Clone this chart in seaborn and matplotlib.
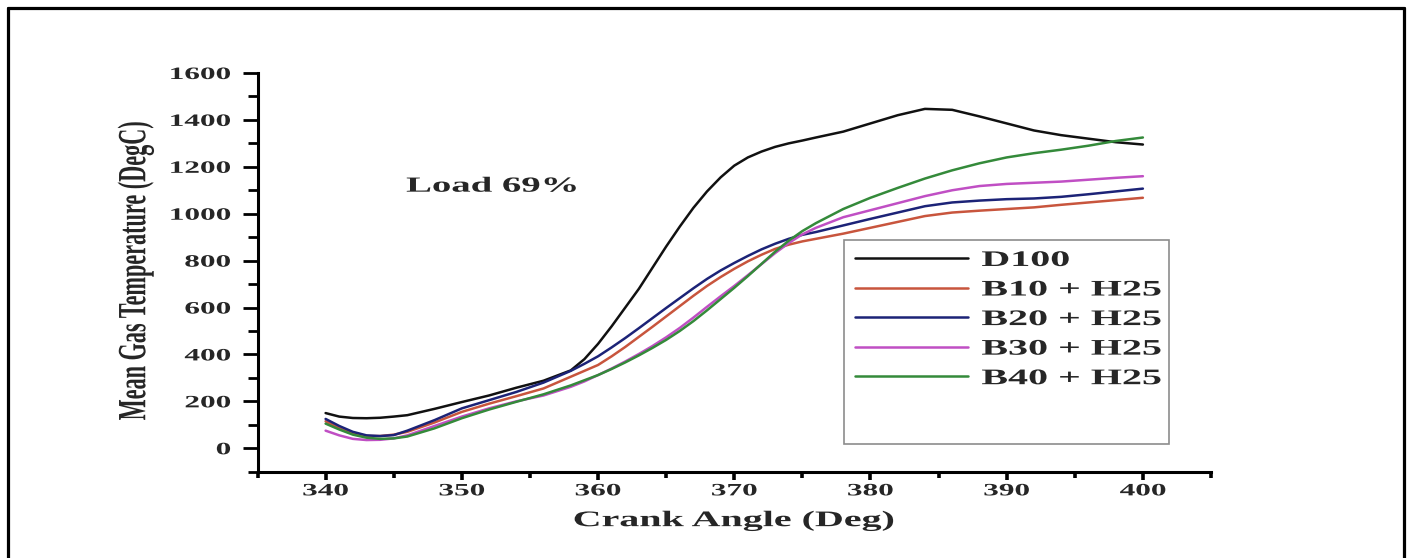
import numpy as np
import pandas as pd
import seaborn as sns
import matplotlib
matplotlib.use("Agg")
import matplotlib.pyplot as plt
from matplotlib.lines import Line2D
from matplotlib.patches import Rectangle
from matplotlib.patheffects import AbstractPathEffect
from matplotlib.transforms import Affine2D
from matplotlib.ticker import FixedLocator

# ---------------------------------------------------------------- data
crank_angle = [340, 341, 342, 343, 344, 345, 346, 348, 350, 352, 354, 356, 358, 359,
               360, 361, 362, 363, 364, 365, 366, 367, 368, 369, 370, 371, 372, 373,
               374, 375, 376, 378, 380, 382, 384, 386, 388, 390, 392, 394, 396, 398, 400]

d100 = [150, 135, 129, 128, 130, 135, 141, 168, 197, 225, 258, 288, 332, 380,
        445, 520, 600, 680, 770, 860, 945, 1025, 1095, 1155, 1205, 1240, 1265, 1285,
        1300, 1312, 1325, 1350, 1385, 1420, 1447, 1443, 1415, 1385, 1355, 1335, 1320, 1305, 1295]

b10_h25 = [115, 85, 62, 52, 52, 58, 70, 110, 155, 190, 222, 255, 305, 330,
           355, 392, 432, 475, 518, 562, 606, 650, 692, 730, 765, 797, 825, 850,
           868, 882, 893, 915, 940, 965, 990, 1005, 1013, 1020, 1027, 1038, 1048, 1058, 1068]

b20_h25 = [125, 95, 70, 55, 52, 56, 75, 120, 170, 205, 240, 280, 330, 360,
           392, 430, 470, 512, 555, 598, 640, 682, 722, 758, 790, 820, 848, 872,
           893, 910, 922, 950, 978, 1005, 1032, 1048, 1056, 1062, 1065, 1072, 1083, 1095, 1107]

b30_h25 = [75, 55, 40, 35, 36, 42, 55, 95, 135, 170, 200, 225, 262, 285,
           312, 340, 370, 402, 436, 473, 513, 557, 603, 648, 692, 738, 785, 832,
           875, 912, 940, 985, 1015, 1045, 1075, 1100, 1118, 1127, 1132, 1137, 1145, 1153, 1160]

b40_h25 = [105, 80, 58, 45, 40, 42, 50, 85, 128, 165, 198, 230, 268, 290,
           312, 338, 366, 396, 428, 462, 500, 542, 588, 636, 684, 734, 786, 838,
           885, 926, 960, 1020, 1068, 1110, 1150, 1185, 1215, 1240, 1258, 1273, 1290, 1310, 1325]

series_names = ["D100", "B10 + H25", "B20 + H25", "B30 + H25", "B40 + H25"]
series_values = [d100, b10_h25, b20_h25, b30_h25, b40_h25]
series_colors = ["#111111", "#c8553d", "#1c2377", "#c04fc4", "#348a3a"]

x_major_ticks = [340, 350, 360, 370, 380, 390, 400]
y_major_ticks = [0, 200, 400, 600, 800, 1000, 1200, 1400, 1600]


# ---------------------------------------------------------------- text stretch
class HStretch(AbstractPathEffect):
    """Draw glyphs widened horizontally around a chosen anchor."""

    def __init__(self, sx, anchor="center"):
        super().__init__()
        self.sx = sx
        self.anchor = anchor

    def draw_path(self, renderer, gc, tpath, affine, rgbFace=None):
        ext = tpath.get_extents(affine)
        if self.anchor == "left":
            cx = ext.x0
        elif self.anchor == "right":
            cx = ext.x1
        else:
            cx = 0.5 * (ext.x0 + ext.x1)
        stretched = affine + Affine2D().translate(-cx, 0).scale(self.sx, 1.0).translate(cx, 0)
        renderer.draw_path(gc, tpath, stretched, rgbFace)


SX = 1.8

# ---------------------------------------------------------------- style
sns.set_theme(style="white")
plt.rcParams["font.family"] = ["Liberation Serif", "DejaVu Serif"]
plt.rcParams["font.weight"] = "bold"

df = pd.concat(
    [pd.DataFrame({"angle": crank_angle, "temp": vals, "fuel": name})
     for name, vals in zip(series_names, series_values)],
    ignore_index=True,
)
palette = dict(zip(series_names, series_colors))

W, H = 1407, 558
fig = plt.figure(figsize=(W / 100, H / 100), dpi=100)
fig.patch.set_facecolor("white")

ax = fig.add_axes([257.5 / W, (H - 471.7) / H, 953.5 / W, 398.7 / H])
sns.lineplot(data=df, x="angle", y="temp", hue="fuel", hue_order=series_names,
             palette=palette, sort=False, estimator=None, linewidth=1.8,
             legend=False, ax=ax)

ax.set_xlim(335, 405)
ax.set_ylim(-100, 1600)

for side in ("top", "right"):
    ax.spines[side].set_visible(False)
for side in ("left", "bottom"):
    ax.spines[side].set_color("black")
    ax.spines[side].set_linewidth(2.2)

ax.xaxis.set_major_locator(FixedLocator(x_major_ticks))
ax.xaxis.set_minor_locator(FixedLocator([335, 345, 355, 365, 375, 385, 395, 405]))
ax.yaxis.set_major_locator(FixedLocator(y_major_ticks))
ax.yaxis.set_minor_locator(FixedLocator([-100, 100, 300, 500, 700, 900, 1100, 1300, 1500]))
ax.set_xticklabels([str(v) for v in x_major_ticks])
ax.set_yticklabels([str(v) for v in y_major_ticks])

ax.tick_params(axis="x", which="major", direction="out", length=5.8, width=2.6,
               color="black", labelsize=12.5, pad=2.6, bottom=True)
ax.tick_params(axis="x", which="minor", direction="out", length=4.3, width=2.6,
               color="black", bottom=True)
ax.tick_params(axis="y", which="major", direction="out", length=10.8, width=2.0,
               color="black", labelsize=12.5, pad=8.5, left=True)
ax.tick_params(axis="y", which="minor", direction="out", length=7.2, width=2.0,
               color="black", left=True)

for tick in ax.xaxis.get_major_ticks():
    tick.label1.set_fontweight("bold")
    tick.label1.set_path_effects([HStretch(SX, "center")])
for tick in ax.yaxis.get_major_ticks():
    tick.label1.set_fontweight("bold")
    tick.label1.set_path_effects([HStretch(SX, "right")])

ax.set_xlabel("Crank Angle (Deg)", fontsize=16, fontweight="bold")
ax.xaxis.set_label_coords(0.5, -0.124)
ax.xaxis.label.set_verticalalignment("center")
ax.xaxis.label.set_path_effects([HStretch(SX, "center")])

ax.set_ylabel("Mean Gas Temperature (DegC)", fontsize=16, fontweight="bold")
ax.yaxis.set_label_coords(-0.1274, 0.505)
ax.yaxis.label.set_verticalalignment("center")
ax.yaxis.label.set_path_effects([HStretch(SX, "center")])

ax.text(345.93, 1094, "Load 69%", fontsize=15.5, fontweight="bold",
        ha="left", va="baseline", path_effects=[HStretch(SX, "left")])

# legend: frameless entries plus a separate gray box
handles = [Line2D([], [], color=c, linewidth=1.8) for c in series_colors]
leg = ax.legend(handles, series_names, loc="upper left",
                bbox_to_anchor=(855 / W, 1 - 250.4 / H), bbox_transform=fig.transFigure,
                frameon=False, borderpad=0, borderaxespad=0, handlelength=5.09,
                handletextpad=0.61, labelspacing=0.405,
                prop={"family": "Liberation Serif", "weight": "bold", "size": 16})
for t in leg.get_texts():
    t.set_path_effects([HStretch(SX, "left")])

ax.add_patch(Rectangle((0.615, 0.070), 0.341, 0.511, transform=ax.transAxes,
                       fill=False, edgecolor="#8c8c8c", linewidth=1.2, zorder=5))

# outer frame lines (left, top, right)
frame_kw = dict(color="black", linewidth=2.3, transform=fig.transFigure, clip_on=False)
fig.add_artist(Line2D([7.5 / W, 7.5 / W], [0, 1 - 7.5 / H], **frame_kw))
fig.add_artist(Line2D([7.5 / W, 1403.5 / W], [1 - 7.5 / H, 1 - 7.5 / H], **frame_kw))
fig.add_artist(Line2D([1403.5 / W, 1403.5 / W], [0, 1 - 7.5 / H], **frame_kw))

fig.savefig("out.png", dpi=100, facecolor="white")
